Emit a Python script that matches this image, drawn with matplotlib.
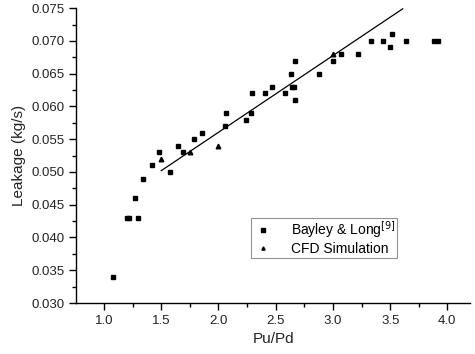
import matplotlib
matplotlib.use("Agg")
import matplotlib.pyplot as plt
from matplotlib.ticker import MultipleLocator, FormatStrFormatter

plt.rcParams['font.family'] = ['Liberation Sans', 'DejaVu Sans']

# Experimental data (Bayley & Long)
exp_x = [1.08, 1.20, 1.22, 1.27, 1.30, 1.34, 1.42, 1.48, 1.58, 1.65, 1.69, 1.79, 1.86,
         2.055, 2.07, 2.24, 2.28, 2.29, 2.41, 2.47, 2.58, 2.63, 2.64, 2.66, 2.67, 2.67,
         2.88, 3.00, 3.07, 3.22, 3.33, 3.44, 3.50, 3.52, 3.64, 3.88, 3.92]
exp_y = [0.034, 0.043, 0.043, 0.046, 0.043, 0.049, 0.051, 0.053, 0.050, 0.054, 0.053, 0.055, 0.056,
         0.057, 0.059, 0.058, 0.059, 0.062, 0.062, 0.063, 0.062, 0.065, 0.063, 0.063, 0.067, 0.061,
         0.065, 0.067, 0.068, 0.068, 0.070, 0.070, 0.069, 0.071, 0.070, 0.070, 0.070]

# CFD simulation
cfd_x = [1.50, 1.75, 2.00, 3.00]
cfd_y = [0.052, 0.053, 0.054, 0.068]

# Trend line
line_x = [1.50, 3.61]
line_y = [0.0502, 0.0749]

fig = plt.figure(figsize=(4.75, 3.54), dpi=100)
ax = fig.add_axes([0.16, 0.144, 0.83, 0.833])

ax.plot(exp_x, exp_y, linestyle='none', marker='s', markersize=3.2, color='black',
        label='Bayley & Long$^{[9]}$')
ax.plot(cfd_x, cfd_y, linestyle='none', marker='^', markersize=3.3, color='black',
        label='CFD Simulation')
ax.plot(line_x, line_y, color='black', linewidth=0.9)

ax.set_xlim(0.755, 4.2)
ax.set_ylim(0.030, 0.075)
ax.xaxis.set_major_locator(MultipleLocator(0.5))
ax.xaxis.set_minor_locator(MultipleLocator(0.25))
ax.yaxis.set_major_locator(MultipleLocator(0.005))
ax.yaxis.set_minor_locator(MultipleLocator(0.0025))
ax.xaxis.set_major_formatter(FormatStrFormatter('%.1f'))
ax.yaxis.set_major_formatter(FormatStrFormatter('%.3f'))

for s in ['top', 'right']:
    ax.spines[s].set_visible(False)
for s in ['left', 'bottom']:
    ax.spines[s].set_linewidth(1.0)

ax.tick_params(axis='both', which='major', direction='out', length=5, width=1,
               labelsize=9.5, colors='black', labelcolor='#222222')
ax.tick_params(axis='both', which='minor', direction='out', length=3, width=1)

ax.set_xlabel('Pu/Pd', fontsize=11, color='#222222', labelpad=4)
ax.set_ylabel('Leakage (kg/s)', fontsize=11, color='#222222', labelpad=4)

leg = ax.legend(loc='upper left', bbox_to_anchor=(0.444, 0.29), fontsize=10,
                frameon=True, fancybox=False, edgecolor='#777777', handletextpad=1.3,
                borderpad=0.15, labelspacing=0.1, handlelength=1.4, markerscale=0.7,
                borderaxespad=0)
leg.get_frame().set_linewidth(0.8)

fig.savefig('out.png', dpi=100)
